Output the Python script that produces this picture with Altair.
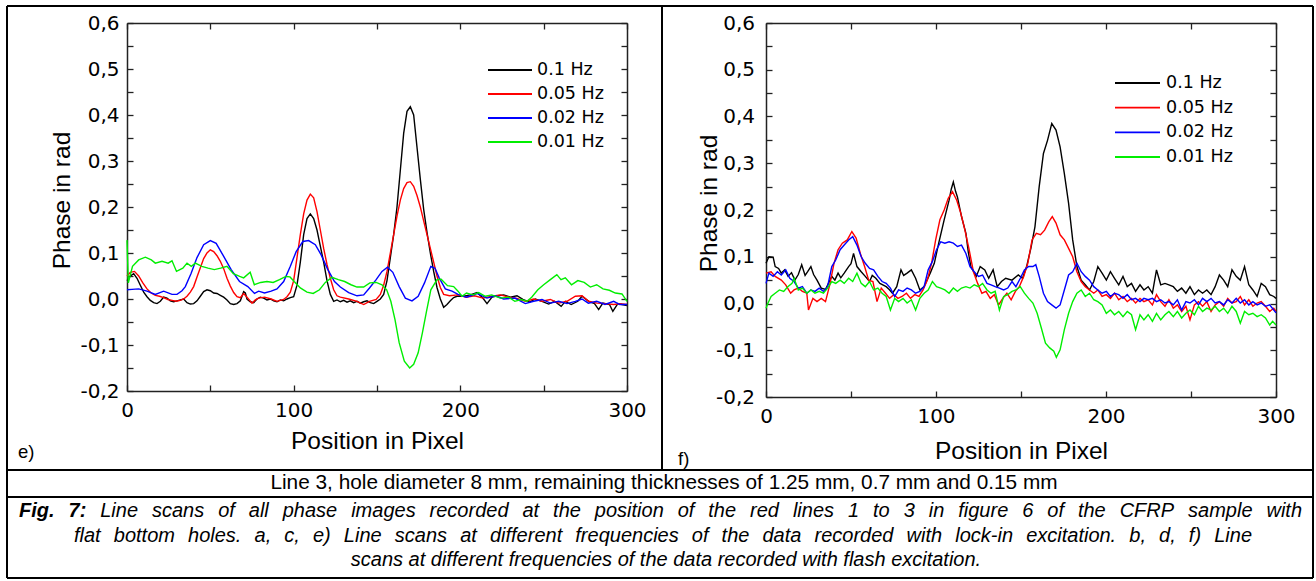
import altair as alt
import pandas as pd

W, H = 1316, 581
SERIES = ["0.1 Hz", "0.05 Hz", "0.02 Hz", "0.01 Hz"]
COLORS = ["#000000", "#ff0000", "#0000ff", "#00ee00"]
X_DOMAIN = [0, 300]
Y_DOMAIN = [-0.2, 0.6]
X_TICKS = [0, 50, 100, 150, 200, 250, 300]
Y_TICKS = [-0.2, -0.15, -0.1, -0.05, 0.0, 0.05, 0.1, 0.15, 0.2, 0.25, 0.3,
           0.35, 0.4, 0.45, 0.5, 0.55, 0.6]
X_TITLE = "Position in Pixel"
Y_TITLE = "Phase in rad"
CAPTION_TOP = "Line 3, hole diameter 8 mm, remaining thicknesses of 1.25 mm, 0.7 mm and 0.15 mm"
FIG_LABEL = "Fig. 7:"
CAPTION_1 = "Line scans of all phase images recorded at the position of the red lines 1 to 3 in figure 6 of the CFRP sample with"
CAPTION_2 = "flat bottom holes. a, c, e) Line scans at different frequencies of the data recorded with lock-in excitation. b, d, f) Line"
CAPTION_3 = "scans at different frequencies of the data recorded with flash excitation."

# ---- panel e) (lock-in) ----
E_BLACK = [(0,0.04),(2,0.05),(4,0.055),(6,0.045),(8,0.03),(10,0.015),(12,0.005),(14,-0.003),(16,-0.008),(18,-0.01),
           (20,-0.005),(22,0.004),(24,0.002),(26,-0.004),(28,-0.006),(30,-0.004),(32,-0.002),(34,0.0),(36,-0.008),(38,-0.011),
           (40,-0.01),(42,-0.004),(44,0.006),(46,0.016),(48,0.02),(50,0.018),(52,0.013),(54,0.012),(56,0.008),(58,0.004),
           (60,-0.002),(62,-0.01),(64,-0.012),(66,-0.01),(68,-0.004),(70,0.016),(71,0.013),(72,0.0),(74,-0.006),(76,-0.008),
           (78,0.0),(80,0.004),(82,0.002),(84,-0.002),(86,0.0),(88,-0.004),(90,-0.006),(92,-0.002),(94,-0.004),(96,0.0),
           (98,0.003),(100,0.005),(102,0.03),(104,0.08),(106,0.14),(108,0.175),(110,0.185),(112,0.175),(114,0.15),(116,0.115),
           (118,0.08),(120,0.04),(122,0.01),(124,-0.005),(126,-0.002),(128,-0.006),(130,-0.003),(132,-0.007),(134,-0.004),
           (136,-0.008),(138,-0.005),(140,-0.009),(142,-0.006),(144,-0.004),(146,-0.008),(148,-0.01),(150,-0.005),(152,0.0),
           (154,0.01),(156,0.04),(158,0.09),(160,0.14),(162,0.2),(164,0.28),(166,0.36),(168,0.408),(170,0.418),(172,0.4),
           (174,0.33),(176,0.26),(178,0.195),(180,0.145),(182,0.1),(184,0.06),(186,0.025),(188,0.0),(190,-0.018),(192,-0.012),
           (194,-0.004),(196,0.003),(198,0.006),(202,0.006),(206,0.009),(210,0.014),(213.5,0.002),(216,-0.01),(219,0.004),
           (222.5,0.007),(226,0.009),(230,0.004),(234,0.007),(237.5,-0.001),(241.5,-0.007),(245,0.0),(249,-0.005),(253,-0.011),
           (256.5,-0.005),(260.5,-0.016),(263,-0.005),(266.5,-0.012),(270.5,-0.005),(273,0.006),(277,-0.005),(280.5,-0.01),
           (283,-0.023),(285.5,-0.009),(289.5,-0.012),(291.5,-0.027),(294.5,-0.01),(297,-0.012),(300,-0.014)]
E_RED = [(0,0.05),(2,0.058),(4.5,0.06),(7,0.05),(9.5,0.035),(12,0.022),(14.5,0.013),(17,0.008),(19.5,0.006),(22,0.003),
         (24.5,-0.001),(27,-0.003),(29.5,-0.005),(32,-0.003),(34,0.0),(36,0.006),(38,0.015),(40,0.027),(42,0.048),(44,0.068),
         (46,0.088),(48,0.1),(50,0.107),(52,0.103),(54,0.094),(56,0.082),(58,0.066),(60,0.045),(62,0.028),(64,0.014),
         (66,0.005),(68,0.003),(70,0.012),(72,0.004),(75,-0.009),(77,-0.002),(79,0.002),(82.5,0.004),(86.5,0.0),(90,-0.005),
         (94,-0.001),(96,0.005),(98,0.015),(100,0.04),(102,0.09),(104,0.14),(106,0.185),(108,0.215),(110,0.228),(112,0.22),
         (114,0.19),(116,0.15),(118,0.11),(120,0.075),(122,0.045),(124,0.02),(126,0.007),(128,0.004),(133,0.0),(138,-0.005),
         (142,-0.012),(145.5,-0.005),(149.5,-0.001),(152,0.01),(154,0.03),(156,0.06),(158,0.1),(160,0.14),(162,0.18),
         (164,0.215),(166,0.24),(168,0.253),(170,0.255),(172,0.245),(174,0.225),(176,0.2),(178,0.17),(180,0.14),(182,0.11),
         (184,0.08),(186,0.05),(188,0.025),(190,0.01),(193.5,0.007),(198.5,0.009),(203.5,0.004),(208.5,0.007),(213.5,0.002),
         (219,0.006),(224,0.009),(229,0.004),(234,0.001),(239,-0.005),(244,0.0),(249,-0.005),(254,-0.001),(259,-0.009),
         (264,-0.005),(269,0.006),(273,0.007),(277,-0.005),(282,-0.009),(287,-0.01),(292,-0.012),(296,-0.01),(300,-0.012)]
E_BLUE = [(0,0.02),(3,0.021),(7,0.022),(12,0.017),(17,0.01),(22,0.017),(27,0.01),(30,0.01),(33,0.018),(35,0.027),
          (38.5,0.056),(42,0.09),(46,0.118),(50,0.127),(53.5,0.121),(57.5,0.096),(62.5,0.064),(67.5,0.038),(72.5,0.027),
          (76.5,0.012),(79,0.017),(82.5,0.013),(86.5,0.017),(90,0.022),(94,0.038),(98,0.071),(101.5,0.103),(105.5,0.125),
          (109,0.127),(113,0.118),(116.5,0.096),(120.5,0.064),(124.5,0.038),(128,0.026),(133,0.014),(138,0.007),(142,0.009),
          (145.5,0.024),(149.5,0.042),(153,0.06),(156.3,0.069),(159.5,0.058),(163.3,0.027),(167,0.002),(171,-0.004),
          (174.7,0.006),(178.5,0.035),(182.3,0.071),(184.8,0.067),(187.3,0.046),(191,0.022),(195,0.017),(198.6,0.01),
          (203.7,0.004),(210,0.012),(216,0.002),(221,0.007),(226,0.0),(232.7,0.002),(239,-0.01),(244,-0.005),(249,-0.001),
          (254,-0.009),(259,-0.005),(264,-0.01),(269,-0.005),(273,0.0),(276.8,-0.009),(281.8,-0.005),(286.8,-0.012),
          (292,-0.005),(295.7,-0.012),(300,-0.012)]
E_GREEN = [(0,0.128),(0.8,0.035),(3.3,0.071),(7,0.085),(11,0.091),(14.6,0.085),(17,0.078),(21,0.082),(24.7,0.078),
           (27,0.083),(29.7,0.06),(33.5,0.067),(36,0.078),(38.6,0.071),(41,0.078),(44.9,0.071),(48.6,0.067),(52.4,0.064),
           (56.2,0.067),(60,0.071),(63.8,0.055),(67.6,0.049),(70,0.046),(73.9,0.058),(76.4,0.031),(80.2,0.036),(84,0.038),
           (87.7,0.036),(91.5,0.042),(95.3,0.049),(97.8,0.048),(100.3,0.038),(104,0.024),(108,0.015),(111.7,0.012),
           (115.5,0.02),(119,0.036),(123,0.047),(126.8,0.042),(130.6,0.038),(134.4,0.031),(138,0.026),(142,0.026),
           (145.7,0.035),(149.5,0.036),(153,0.031),(155.8,0.02),(158.3,-0.005),(160.8,-0.045),(163.3,-0.095),(166.4,-0.135),
           (169.6,-0.15),(172,-0.142),(174.7,-0.117),(177.2,-0.074),(179.7,-0.027),(182.3,0.02),(186,0.042),(188.5,0.043),
           (192.3,0.029),(196,0.027),(198.6,0.017),(201,0.006),(203.7,0.013),(207.5,0.009),(211,0.014),(215,0.006),
           (218.8,0.009),(224,0.002),(229,0.004),(232.7,-0.005),(236.5,-0.001),(240,-0.005),(242.8,0.004),(246.5,0.02),
           (250,0.031),(254,0.042),(257.9,0.053),(260.4,0.042),(263,0.046),(266.7,0.031),(270.5,0.04),(274.3,0.036),
           (278,0.026),(281.8,0.031),(285.6,0.022),(289.4,0.019),(293,0.013),(297,0.011),(300,-0.005)]

# ---- panel f) (flash) ----
F_BLACK = [(0,0.086),(1.7,0.1),(4.2,0.099),(5.4,0.079),(7.4,0.075),(9,0.065),(11,0.072),(13,0.058),(15,0.066),(17,0.05),
           (19,0.062),(21,0.083),(23,0.06),(24.5,0.068),(26.4,0.079),(28,0.062),(30,0.05),(32.5,0.033),(35,0.03),(38.7,0.058),
           (40.5,0.05),(42.4,0.065),(44,0.055),(46,0.065),(48.6,0.079),(50,0.085),(51.5,0.107),(53.5,0.079),(56,0.068),
           (58.4,0.058),(60.9,0.047),(62.5,0.06),(64.6,0.054),(67,0.043),(70.7,0.036),(72.5,0.03),(74.4,0.022),(76.9,0.036),
           (79.4,0.072),(81,0.06),(83,0.065),(85.5,0.072),(88,0.054),(90.5,0.029),(93,0.036),(96.6,0.065),(99,0.086),
           (101.6,0.129),(104.8,0.179),(107.7,0.221),(109,0.245),(110.2,0.26),(111.5,0.24),(112.6,0.228),(115,0.186),
           (117.6,0.15),(119,0.11),(120.5,0.079),(123.7,0.058),(126,0.079),(128.7,0.072),(131,0.054),(133.6,0.072),(136,0.036),
           (138.5,0.047),(141,0.054),(144.7,0.05),(148.4,0.061),(150.9,0.054),(153.3,0.079),(155.8,0.118),(158.2,0.164),
           (160.7,0.25),(163.2,0.321),(165.6,0.349),(168.1,0.385),(170.6,0.371),(173,0.335),(175.5,0.278),(178,0.214),
           (180.4,0.136),(182.9,0.079),(185.4,0.05),(187.8,0.04),(190.3,0.029),(192.8,0.047),(195.2,0.079),(197.7,0.065),
           (200.2,0.05),(202.6,0.068),(205,0.054),(207.5,0.04),(210,0.058),(212.5,0.036),(215,0.043),(217.4,0.026),(220,0.04),
           (222.3,0.029),(224.8,0.036),(227.3,0.022),(229.7,0.072),(232.2,0.04),(234.7,0.043),(237,0.04),(239.6,0.036),
           (242,0.026),(244.5,0.033),(247,0.022),(249.4,0.036),(252,0.019),(254.4,0.029),(256.8,0.022),(259.3,0.029),
           (261.8,0.019),(264.2,0.036),(266.7,0.061),(269.2,0.05),(271.6,0.036),(274.1,0.072),(276.6,0.058),(279,0.05),
           (281.5,0.079),(284,0.04),(286.4,0.029),(288.9,0.015),(291.3,0.043),(293.8,0.036),(296.3,0.019),(298.7,0.015),
           (300,0.011)]
F_RED = [(0,0.065),(3,0.068),(5.4,0.058),(9,0.05),(11.6,0.04),(14.5,0.022),(16.5,0.029),(19,0.033),(21.4,0.026),(24,0.022),
         (25,-0.014),(27.6,0.011),(30,0.004),(32.5,0.011),(35,0.004),(37.5,0.04),(40,0.086),(42.4,0.115),(44.9,0.129),
         (47.8,0.136),(50.5,0.154),(53,0.14),(55.5,0.107),(58,0.079),(60.4,0.05),(62.9,0.047),(65.3,0.004),(67.8,0.033),
         (70.3,0.022),(72.7,0.011),(75.2,0.019),(77.6,0.011),(80,0.015),(82.6,0.022),(85,0.011),(87.5,0.019),(90,0.015),
         (92.4,0.029),(94.9,0.05),(97.4,0.086),(99.8,0.136),(102.3,0.179),(104.8,0.2),(107.2,0.225),(109.7,0.239),
         (112.2,0.221),(114.6,0.193),(117,0.157),(119.5,0.115),(122,0.068),(124.5,0.043),(127,0.022),(129.4,0.026),
         (131.9,0.011),(134.3,0.019),(136.8,-0.003),(139.3,0.011),(141.7,0.022),(144.2,0.008),(146.7,0.026),(149,0.036),
         (151.6,0.058),(154,0.086),(156.5,0.136),(159,0.15),(161.5,0.147),(163.9,0.157),(166.4,0.175),(168.4,0.186),
         (170.6,0.172),(173,0.147),(175.5,0.136),(178,0.118),(180.4,0.1),(182.9,0.068),(185.4,0.047),(187.8,0.036),
         (190.3,0.029),(192.8,0.022),(195.2,0.029),(197.7,0.015),(200.2,0.019),(202.6,0.011),(205,0.022),(207.5,0.008),
         (210,0.015),(212.5,0.004),(215,0.011),(217.4,0.001),(220,0.011),(222.3,0.004),(224.8,0.008),(227.3,-0.003),
         (229.7,0.019),(232.2,0.004),(234.7,-0.006),(237,0.008),(239.6,-0.01),(242,-0.003),(244.5,-0.017),(247,-0.006),
         (249.4,-0.035),(252,-0.003),(254.4,0.004),(256.8,-0.006),(259.3,0.004),(261.8,-0.017),(264.2,-0.003),(266.7,0.004),
         (269.2,-0.006),(271.6,0.011),(274.1,0.001),(276.6,0.004),(279,0.015),(281.5,-0.003),(284,0.008),(286.4,-0.006),
         (288.9,0.001),(291.3,0.004),(293.8,-0.006),(296.3,-0.017),(298.7,-0.01),(300,-0.017)]
F_BLUE = [(0,0.043),(1.7,0.065),(4.2,0.058),(6.7,0.068),(9,0.061),(11.6,0.072),(14,0.054),(16.5,0.047),(19,0.033),
          (21.4,0.036),(24,0.022),(26.4,0.029),(28.8,0.026),(31.3,0.033),(33.8,0.026),(36.2,0.036),(38.7,0.079),(41,0.093),
          (43.6,0.115),(46,0.125),(48.6,0.136),(51,0.143),(53.5,0.125),(56,0.1),(58.4,0.086),(60.9,0.075),(63.3,0.072),
          (65.8,0.058),(68.3,0.047),(70.7,0.043),(73.2,0.033),(75.7,0.015),(78,0.029),(80.6,0.026),(83,0.033),(85.5,0.029),
          (88,0.022),(90.5,0.026),(93,0.036),(95.4,0.072),(97.9,0.09),(100.3,0.115),(102.8,0.132),(105.2,0.129),(107.7,0.132),
          (110.2,0.129),(112.6,0.122),(115,0.125),(117.6,0.107),(120,0.079),(122.5,0.068),(125,0.058),(127.4,0.061),
          (130,0.043),(132.4,0.04),(134.8,0.036),(137.3,0.033),(139.8,0.029),(142.2,0.033),(144.7,0.047),(147,0.036),
          (149.6,0.054),(152,0.072),(154.5,0.079),(157,0.079),(158.7,0.083),(160.7,0.058),(163.2,0.022),(165.6,0.004),
          (168.1,-0.003),(170.6,-0.01),(173,-0.003),(175.5,0.029),(178,0.061),(180.4,0.068),(182.9,0.086),(185.4,0.068),
          (187.8,0.058),(190.3,0.05),(192.8,0.036),(195.2,0.029),(197.7,0.022),(200.2,0.026),(202.6,0.015),(205,0.022),
          (207.5,0.019),(210,0.011),(212.5,0.019),(215,0.008),(217.4,0.011),(220,0.004),(222.3,0.011),(224.8,0.008),
          (227.3,0.011),(229.7,0.004),(232.2,0.008),(234.7,0.001),(237,0.004),(239.6,-0.003),(242,0.008),(244.5,-0.014),
          (247,0.004),(249.4,0.001),(252,0.008),(254.4,-0.003),(256.8,0.011),(259.3,0.004),(261.8,0.011),(264.2,0.001),
          (266.7,0.004),(269.2,-0.003),(271.6,0.008),(274.1,0.001),(276.6,0.011),(279,0.001),(281.5,0.008),(284,-0.003),
          (286.4,0.004),(288.9,-0.003),(291.3,0.001),(293.8,-0.006),(296.3,-0.003),(298.7,-0.014),(300,-0.02)]
F_GREEN = [(0,-0.01),(1.2,0.001),(3,0.015),(5.4,0.022),(7.9,0.029),(10.4,0.026),(12.8,0.036),(15.3,0.043),(16.5,0.054),
           (19,0.029),(21.4,0.033),(24,0.022),(26.4,0.029),(28.8,0.022),(31.3,0.026),(33.8,0.022),(36.2,0.033),(38.7,0.047),
           (41,0.043),(43.6,0.05),(46,0.043),(48.6,0.054),(51,0.047),(53.5,0.065),(56,0.043),(58.4,0.036),(60.9,0.047),
           (63.3,0.029),(65.8,0.033),(68.3,0.022),(70.7,0.015),(73.2,-0.014),(75.7,0.011),(78,0.004),(80.6,0.011),(83,0.001),
           (85.5,0.008),(88,-0.014),(90.5,0.011),(93,0.022),(95.4,0.029),(97.9,0.047),(100.3,0.036),(102.8,0.033),(105.2,0.029),
           (107.7,0.022),(110.2,0.033),(112.6,0.026),(115,0.033),(117.6,0.036),(120,0.033),(122.5,0.04),(125,0.036),
           (127.4,0.043),(130,0.029),(132.4,0.022),(134.8,0.026),(137.3,-0.014),(139.8,0.015),(142.2,0.019),(144.7,0.026),
           (147,0.029),(149.6,0.036),(152,0.022),(154.5,0.011),(157,0.001),(159.5,-0.021),(162,-0.053),(164.4,-0.085),
           (166.9,-0.095),(169.3,-0.102),(170.8,-0.115),(173,-0.099),(175.5,-0.056),(178,-0.021),(180.4,0.004),(182.9,0.022),
           (185.4,0.029),(187.8,0.015),(190.3,0.022),(192.8,0.008),(195.2,0.004),(197.7,-0.003),(200.2,-0.021),(202.6,-0.014),
           (205,-0.024),(207.5,-0.017),(210,-0.028),(212.5,-0.017),(215,-0.024),(217.4,-0.056),(220,-0.024),(222.3,-0.035),
           (224.8,-0.024),(227.3,-0.038),(229.7,-0.021),(232.2,-0.035),(234.7,-0.024),(237,-0.017),(239.6,-0.028),(242,-0.017),
           (244.5,-0.031),(247,-0.021),(249.4,-0.014),(252,-0.024),(254.4,-0.006),(256.8,-0.017),(259.3,-0.01),(261.8,-0.014),
           (264.2,-0.006),(266.7,-0.017),(269.2,-0.01),(271.6,-0.021),(274.1,-0.006),(276.6,-0.017),(279,-0.042),(281.5,-0.017),
           (284,-0.024),(286.4,-0.021),(288.9,-0.028),(291.3,-0.024),(293.8,-0.031),(296.3,-0.046),(298,-0.038),(300,-0.046)]

FRAME = "#222222"
SANS = "Liberation Sans"
WIDE = "DejaVu Sans"
INWARD = alt.ExprRef(expr="-6")
ONE = alt.Data(values=[{}])

# Arial / Liberation Sans advance widths (per 1000 em), used to justify caption lines
_W = {" ": 278, ",": 278, ".": 278, ":": 278, "-": 333, "(": 333, ")": 333,
      "A": 667, "B": 667, "C": 722, "D": 722, "E": 667, "F": 611, "G": 778, "H": 722, "I": 278, "J": 500,
      "K": 667, "L": 556, "M": 833, "N": 722, "O": 778, "P": 667, "Q": 778, "R": 722, "S": 667, "T": 611,
      "U": 722, "V": 667, "W": 944, "X": 667, "Y": 667, "Z": 611,
      "a": 556, "b": 556, "c": 500, "d": 556, "e": 556, "f": 278, "g": 556, "h": 556, "i": 222, "j": 222,
      "k": 500, "l": 222, "m": 833, "n": 556, "o": 556, "p": 556, "q": 556, "r": 333, "s": 500, "t": 278,
      "u": 556, "v": 500, "w": 722, "x": 500, "y": 500, "z": 500}
_WB = {"F": 611, "i": 278, "g": 611, ".": 278, "7": 556, ":": 333, " ": 278}


def text_w(s, size, table=_W):
    return sum(table.get(c, 556) for c in s) * size / 1000.0


def long_table(lists):
    rows = []
    for name, pts in zip(SERIES, lists):
        for x, y in pts:
            rows.append({"x": x, "y": y, "series": name})
    return pd.DataFrame(rows)


def color_enc():
    return alt.Color("series:N", scale=alt.Scale(domain=SERIES, range=COLORS), legend=None)


Y_LABELS = ("abs(round(datum.value*20)) % 2 == 0 ? (datum.value < -0.001 ? '-' : '') + '0,' + "
            "abs(round(datum.value*10)) : ''")
X_LABELS = "datum.value % 100 == 0 ? datum.label : ''"


def panel(df, x0, x1, y0, y1, ylab_pad, xtitle_y, ytitle_x, ytitle_y, leg_x0, leg_x1, leg_tx, leg_y0, leg_y1):
    xs = alt.Scale(domain=X_DOMAIN, range=[x0, x1], nice=False, zero=False)
    ys = alt.Scale(domain=Y_DOMAIN, range=[y1, y0], nice=False, zero=False)
    common = dict(domainColor=FRAME, domainWidth=1.5, tickColor=FRAME, tickWidth=1.3,
                  tickSize=INWARD, grid=False, labelOverlap=False, labelFlush=False)
    x_axis = alt.Axis(orient="bottom", offset=y1 - H, values=X_TICKS, labelExpr=X_LABELS,
                      labelFont=WIDE, labelFontSize=20, labelColor="black", labelPadding=15,
                      title=X_TITLE, titleFont=SANS, titleFontSize=24.5, titleFontWeight="normal",
                      titleColor="black", titleY=xtitle_y, titleBaseline="alphabetic", **common)
    y_axis = alt.Axis(orient="left", offset=-x0, values=Y_TICKS, labelExpr=Y_LABELS,
                      labelFont=WIDE, labelFontSize=20, labelColor="black", labelPadding=ylab_pad,
                      title=Y_TITLE, titleFont=SANS, titleFontSize=24.5, titleFontWeight="normal",
                      titleColor="black", titleX=ytitle_x, titleY=ytitle_y, titleAngle=-90,
                      titleAlign="center", titleBaseline="alphabetic", **common)
    lines = alt.Chart(df).mark_line(strokeWidth=1.4).encode(
        x=alt.X("x:Q", scale=xs, axis=x_axis),
        y=alt.Y("y:Q", scale=ys, axis=y_axis),
        color=color_enc(),
    )
    x_top = alt.Axis(orient="top", offset=-y0, values=X_TICKS, labels=False, title="", **common)
    y_right = alt.Axis(orient="right", offset=x1 - W, values=Y_TICKS, labels=False, title="", **common)
    box = alt.Chart(df).mark_line(strokeOpacity=0).encode(
        x=alt.X("x:Q", scale=xs, axis=x_top),
        y=alt.Y("y:Q", scale=ys, axis=y_right),
        detail="series:N",
    )
    leg = pd.DataFrame({"series": SERIES})
    ly = alt.Y("series:N", scale=alt.Scale(type="point", domain=SERIES, range=[leg_y0, leg_y1], padding=0),
               axis=None)
    leg_lines = alt.Chart(leg).mark_rule(strokeWidth=1.8).encode(
        x=alt.value(leg_x0), x2=alt.value(leg_x1), y=ly, color=color_enc())
    leg_text = alt.Chart(leg).mark_text(align="left", baseline="middle", font=WIDE, fontSize=17.5,
                                        color="black").encode(
        x=alt.value(leg_tx), y=ly, text="series:N")
    return [lines, box, leg_lines, leg_text]


def hline(y, x0=7, x1=1313):
    return alt.Chart(ONE).mark_rule(color="black", strokeWidth=2).encode(
        x=alt.value(x0), x2=alt.value(x1), y=alt.value(y))


def vline(x, y0=6, y1=578):
    return alt.Chart(ONE).mark_rule(color="black", strokeWidth=2).encode(
        x=alt.value(x), y=alt.value(y0), y2=alt.value(y1))


def label(text, x, y, size, font=SANS, align="left", style="normal", weight="normal"):
    return alt.Chart(ONE).mark_text(text=text, align=align, baseline="alphabetic", font=font,
                                    fontSize=size, fontStyle=style, fontWeight=weight,
                                    color="black").encode(x=alt.value(x), y=alt.value(y))


def justified(words, x_left, x_right, y, size, bold_count=0):
    """Lay words out across [x_left, x_right] with evenly stretched word gaps."""
    widths = [text_w(w, size, _WB if i < bold_count else _W) for i, w in enumerate(words)]
    gap = (x_right - x_left - sum(widths)) / (len(words) - 1)
    out, x = [], x_left
    for i, (w, wd) in enumerate(zip(words, widths)):
        out.append(label(w, x, y, size, style="italic", weight="bold" if i < bold_count else "normal"))
        x += wd + gap
    return out


df_e = long_table([E_BLACK, E_RED, E_BLUE, E_GREEN])
df_f = long_table([F_BLACK, F_RED, F_BLUE, F_GREEN])

CAP_SIZE = 20
layers = []
layers += panel(df_e, 127, 627, 23, 391, 14, 57, -58, 200, 488, 532, 537, 70, 142)
layers += panel(df_f, 766, 1276, 23, 397, 17.5, 61, -50, 203, 1115, 1160, 1166, 83, 157)
layers += [
    hline(6), hline(470), hline(497), hline(578),
    vline(7), vline(1313), vline(662, 6, 470),
    label("e)", 18, 458, 18.5),
    label("f)", 678, 465, 18.5),
    label(CAPTION_TOP, 664, 489, 20.8, align="center"),
    label(CAPTION_3, 666, 566, CAP_SIZE, align="center", style="italic"),
]
layers += justified(FIG_LABEL.split() + CAPTION_1.split(), 19, 1302, 517, CAP_SIZE, bold_count=2)
layers += justified(CAPTION_2.split(), 74, 1252, 542, CAP_SIZE)

chart = alt.layer(*layers).resolve_scale(
    x="independent", y="independent", color="independent"
).properties(
    width=W, height=H, autosize=alt.AutoSizeParams(type="none"), padding=0, background="white"
).configure_view(strokeWidth=0)

chart.save("out.html", embed_options={"renderer": "svg", "actions": False})
